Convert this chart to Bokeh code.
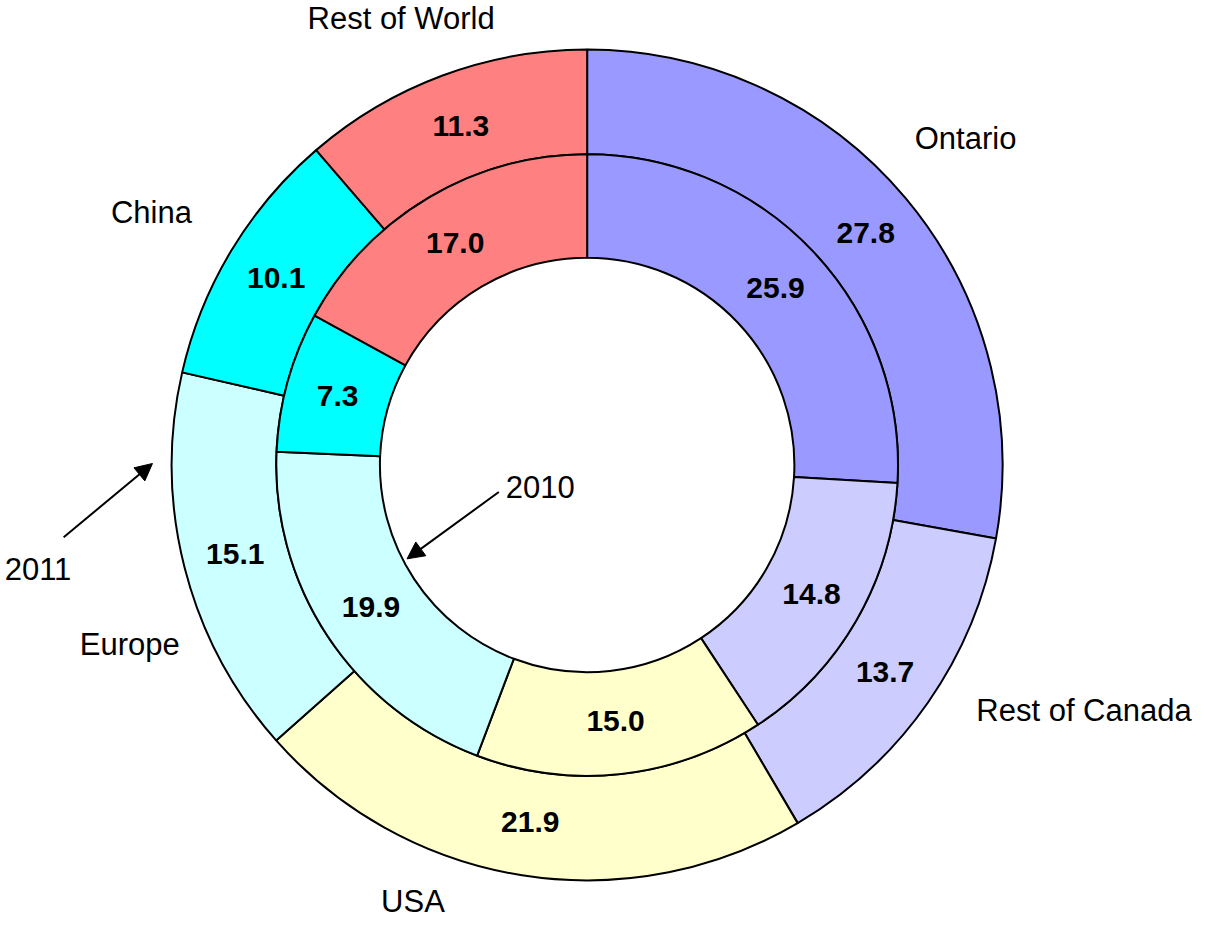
import math
from bokeh.plotting import figure
from bokeh.models import Range1d, ColumnDataSource, Arrow, NormalHead, Label
from bokeh.core.properties import value
from bokeh.embed import file_html
from bokeh.resources import INLINE

categories = ["Ontario", "Rest of Canada", "USA", "Europe", "China", "Rest of World"]
values_2011 = [27.8, 13.7, 21.9, 15.1, 10.1, 11.3]
values_2010 = [25.9, 14.8, 15.0, 19.9, 7.3, 17.0]
colors = ["#9999FF", "#CCCCFF", "#FFFFCC", "#CCFFFF", "#00FFFF", "#FF8080"]

W, H = 1195, 927
IMG_W, IMG_H = 1211, 943
def Y(y):
    return IMG_H - y

CX, CY = 594.5, Y(472.5)
R_IN, R_MID, R_OUT = 210, 315, 421

p = figure(width=W, height=H, output_backend="svg", toolbar_location=None,
           x_range=Range1d(0, IMG_W), y_range=Range1d(0, IMG_H),
           min_border=0, outline_line_color=None)
p.axis.visible = False
p.grid.visible = False
p.background_fill_color = "white"

def ring(vals, r0, r1):
    total = sum(vals)
    starts, ends, lx, ly, txt = [], [], [], [], []
    cum = 0.0
    for v in vals:
        a0 = math.pi / 2 - 2 * math.pi * cum / total
        cum += v
        a1 = math.pi / 2 - 2 * math.pi * cum / total
        starts.append(a0)
        ends.append(a1)
        am = (a0 + a1) / 2
        rm = (r0 + r1) / 2
        lx.append(CX + rm * math.cos(am))
        ly.append(CY + rm * math.sin(am))
        txt.append(f"{v:.1f}")
    src = ColumnDataSource(dict(start=starts, end=ends, color=colors, lx=lx, ly=ly, txt=txt))
    p.annular_wedge(x=CX, y=CY, inner_radius=r0, outer_radius=r1, start_angle="start",
                    end_angle="end", direction="clock", fill_color="color",
                    line_color="black", line_width=2, source=src)
    p.text(x="lx", y="ly", text="txt", source=src, text_align="center",
           text_baseline="middle", text_font=value("Liberation Sans"),
           text_font_style="bold", text_font_size="30px", text_color="black")

ring(values_2011, R_MID, R_OUT)
ring(values_2010, R_IN, R_MID)

cat_pos = {"Ontario": (978, 140), "Rest of Canada": (1098, 722), "USA": (418, 917),
           "Europe": (131, 655), "China": (153, 216), "Rest of World": (406, 18)}
for c in categories:
    x, y = cat_pos[c]
    p.add_layout(Label(x=x, y=Y(y), text=c, text_align="center", text_baseline="middle",
                       text_font="Liberation Sans", text_font_size="31px", text_color="black"))

for t, (x, y) in [("2011", (38, 578)), ("2010", (547, 495))]:
    p.add_layout(Label(x=x, y=Y(y), text=t, text_align="center", text_baseline="middle",
                       text_font="Liberation Sans", text_font_size="31px", text_color="black"))

p.add_layout(Arrow(x_start=64, y_start=Y(546), x_end=154, y_end=Y(471),
                   line_width=2, line_color="black",
                   end=NormalHead(size=17, fill_color="black", line_color="black")))
p.add_layout(Arrow(x_start=505, y_start=Y(500), x_end=412, y_end=Y(568),
                   line_width=2, line_color="black",
                   end=NormalHead(size=17, fill_color="black", line_color="black")))

open("out.html", "w").write(file_html(p, INLINE))
